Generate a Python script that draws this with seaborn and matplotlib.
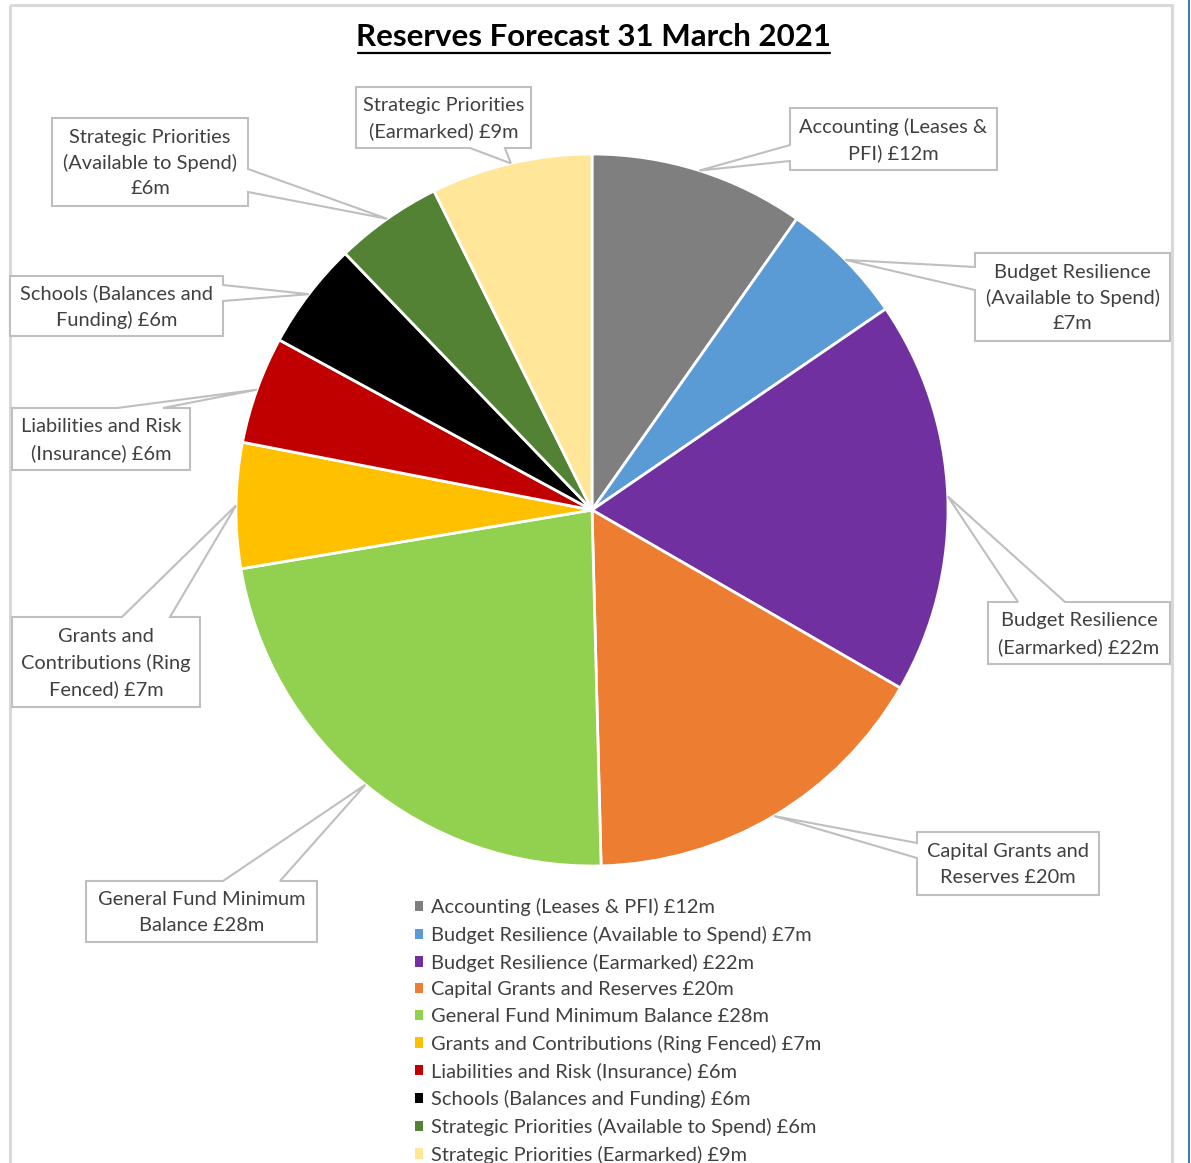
import numpy as np
import matplotlib
matplotlib.use("Agg")
import matplotlib.pyplot as plt
from matplotlib.patches import Polygon, Rectangle
import seaborn as sns

# Reserve categories and forecast balances (£m) at 31 March 2021
categories = [
    "Accounting (Leases & PFI)",
    "Budget Resilience (Available to Spend)",
    "Budget Resilience (Earmarked)",
    "Capital Grants and Reserves",
    "General Fund Minimum Balance",
    "Grants and Contributions (Ring Fenced)",
    "Liabilities and Risk (Insurance)",
    "Schools (Balances and Funding)",
    "Strategic Priorities (Available to Spend)",
    "Strategic Priorities (Earmarked)",
]
values = [12, 7, 22, 20, 28, 7, 6, 6, 6, 9]
colors = ["#7F7F7F", "#5B9BD5", "#7030A0", "#ED7D31", "#92D050",
          "#FFC000", "#C00000", "#000000", "#548235", "#FFE699"]

# Wrapped text for the callout boxes; the value is filled in from `values`
callout_fmt = [
    "Accounting (Leases &\nPFI) £{}m",
    "Budget Resilience\n(Available to Spend)\n£{}m",
    "Budget Resilience\n(Earmarked) £{}m",
    "Capital Grants and\nReserves £{}m",
    "General Fund Minimum\nBalance £{}m",
    "Grants and\nContributions (Ring\nFenced) £{}m",
    "Liabilities and Risk\n(Insurance) £{}m",
    "Schools (Balances and\nFunding) £{}m",
    "Strategic Priorities\n(Available to Spend)\n£{}m",
    "Strategic Priorities\n(Earmarked) £{}m",
]

# Callout box layout in pixel space: x0, y0, x1, y1, side of the pointer, pointer base span
callout_boxes = [
    (790, 108, 997, 170, "left", 145, 161),
    (975, 253, 1170, 341, "left", 267, 290),
    (988, 602, 1170, 664, "top", 1018, 1065),
    (917, 832, 1099, 895, "left", 843, 858),
    (86, 881, 317, 942, "top", 223, 280),
    (12, 617, 200, 707, "top", 122, 170),
    (12, 408, 190, 470, "top", 117, 163),
    (10, 276, 223, 336, "right", 285, 301),
    (52, 118, 248, 206, "right", 169, 192),
    (356, 87, 531, 148, "bottom", 470, 505),
]

W, H = 1191, 1163
sns.set_theme(style="white")
plt.rcParams["font.family"] = ["Lato", "DejaVu Sans"]

TEXT = "#404040"
GRID = "#BFBFBF"
FS = 14.4

fig = plt.figure(figsize=(W / 100, H / 100), dpi=100)
ax = fig.add_axes([0, 0, 1, 1])

cx, cy, r = 592, 510, 356
wedges, _ = ax.pie(values, colors=colors, startangle=-90, counterclock=True,
                   radius=r, center=(cx, cy),
                   wedgeprops=dict(edgecolor="white", linewidth=2.0))

ax.set_xlim(0, W)
ax.set_ylim(H, 0)
ax.set_aspect("auto")
ax.axis("off")

# Chart frame and the pane edge at the right
ax.add_patch(Rectangle((10, 5), 1162, 1300, fill=False, edgecolor="#D9D9D9",
                       linewidth=2.2, zorder=0))
ax.plot([1189, 1189], [0, H], color="#4472C4", linewidth=1.4, zorder=0)

# Title with underline
ax.text(594, 37, "Reserves Forecast 31 March 2021", fontsize=22.5, fontweight="bold",
        color="black", ha="center", va="center")
ax.plot([358, 830], [53, 53], color="black", linewidth=1.6)


def callout_polygon(x0, y0, x1, y1, side, a, b, tip):
    pts = [(x0, y0)]
    if side == "top":
        pts += [(a, y0), tip, (b, y0)]
    pts += [(x1, y0)]
    if side == "right":
        pts += [(x1, a), tip, (x1, b)]
    pts += [(x1, y1)]
    if side == "bottom":
        pts += [(b, y1), tip, (a, y1)]
    pts += [(x0, y1)]
    if side == "left":
        pts += [(x0, b), tip, (x0, a)]
    return pts


for w, v, fmt, box in zip(wedges, values, callout_fmt, callout_boxes):
    mid = np.deg2rad((w.theta1 + w.theta2) / 2)
    tip = (cx + r * np.cos(mid), cy + r * np.sin(mid))
    x0, y0, x1, y1, side, a, b = box
    poly = Polygon(callout_polygon(x0, y0, x1, y1, side, a, b, tip), closed=True,
                   facecolor="white", edgecolor=GRID, linewidth=1.5, zorder=3)
    ax.add_patch(poly)
    ax.text((x0 + x1) / 2, (y0 + y1) / 2 + 1, fmt.format(v), fontsize=FS, color=TEXT,
            ha="center", va="center", multialignment="center", linespacing=1.58, zorder=4)

legend_labels = [f"{c} £{v}m" for c, v in zip(categories, values)]
leg = ax.legend(wedges, legend_labels, loc="upper left", bbox_to_anchor=(415, 898),
                bbox_transform=ax.transData, frameon=False, fontsize=FS,
                handlelength=0.42, handleheight=0.42, handletextpad=0.38,
                labelspacing=0.485, borderpad=0, borderaxespad=0)
for t in leg.get_texts():
    t.set_color(TEXT)
for hnd in leg.legend_handles:
    hnd.set_edgecolor("none")

fig.savefig("out.png", dpi=100, facecolor="white")
